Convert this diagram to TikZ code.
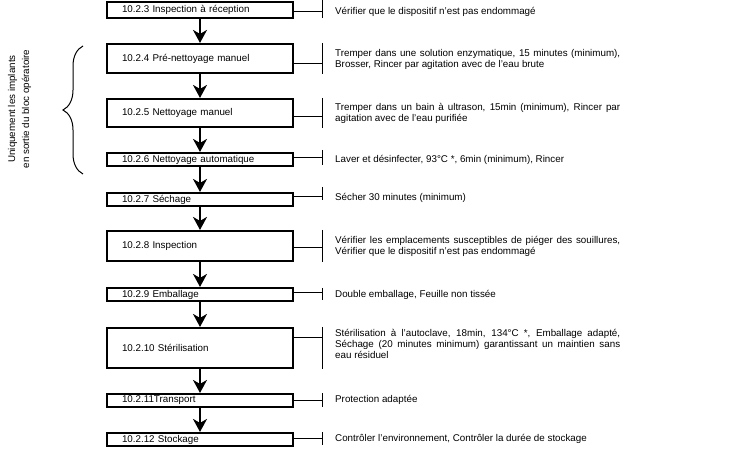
\documentclass[tikz,border=0pt]{standalone}
\usepackage{fontspec}
\setmainfont{Liberation Sans}
\usetikzlibrary{arrows.meta,decorations.pathreplacing}

\begin{document}
\begin{tikzpicture}[x=1bp,y=-1bp,stepbox/.style={draw=black,line width=1.6bp,text width=156bp,inner xsep=15bp,inner ysep=0bp,align=left,font=\fontsize{9.8bp}{11bp}\selectfont},note/.style={anchor=west,text width=285bp,inner sep=0bp,align=justify,font=\fontsize{9.8bp}{11bp}\selectfont},flow/.style={line width=2bp,-{Stealth[length=13bp,width=14bp,inset=4bp]}},link/.style={line width=1bp},tick/.style={line width=1bp}]
\def\bx{200}
\def\kx{322}
\def\tx{335}

\useasboundingbox (0,0) rectangle (752,450);

% etapes
\node[stepbox,minimum height=16.5bp] (b3) at (\bx,10) {10.2.3 Inspection à réception};
\node[stepbox,minimum height=29.5bp] (b4) at (\bx,58.5) {10.2.4 Pré-nettoyage manuel};
\node[stepbox,minimum height=28.5bp] (b5) at (\bx,113) {10.2.5 Nettoyage manuel};
\node[stepbox,minimum height=13.5bp] (b6) at (\bx,159.5) {10.2.6 Nettoyage automatique};
\node[stepbox,minimum height=13.5bp] (b7) at (\bx,199.5) {10.2.7 Séchage};
\node[stepbox,minimum height=30.5bp] (b8) at (\bx,246) {10.2.8 Inspection};
\node[stepbox,minimum height=13.5bp] (b9) at (\bx,294.5) {10.2.9 Emballage};
\node[stepbox,minimum height=40.5bp] (b10) at (\bx,348) {10.2.10 Stérilisation};
\node[stepbox,minimum height=13.5bp] (b11) at (\bx,400.5) {10.2.11Transport};
\node[stepbox,minimum height=13.5bp] (b12) at (\bx,439.5) {10.2.12 Stockage};

\draw[flow] (b3.south) -- (b4.north);
\draw[flow] (b4.south) -- (b5.north);
\draw[flow] (b5.south) -- (b6.north);
\draw[flow] (b6.south) -- (b7.north);
\draw[flow] (b7.south) -- (b8.north);
\draw[flow] (b8.south) -- (b9.north);
\draw[flow] (b9.south) -- (b10.north);
\draw[flow] (b10.south) -- (b11.north);
\draw[flow] (b11.south) -- (b12.north);

% consignes
\node[note] (t3) at (\tx,12) {Vérifier que le dispositif n'est pas endommagé};
\node[note] (t4) at (\tx,59) {Tremper dans une solution enzymatique, 15 minutes (minimum),\linebreak Brosser, Rincer par agitation avec de l'eau brute};
\node[note] (t5) at (\tx,113.5) {Tremper dans un bain à ultrason, 15min (minimum), Rincer par\linebreak agitation avec de l'eau purifiée};
\node[note] (t6) at (\tx,160) {Laver et désinfecter, 93°C *, 6min (minimum), Rincer};
\node[note] (t7) at (\tx,198) {Sécher 30 minutes (minimum)};
\node[note] (t8) at (\tx,246.5) {Vérifier les emplacements susceptibles de piéger des souillures,\linebreak Vérifier que le dispositif n'est pas endommagé};
\node[note] (t9) at (\tx,295) {Double emballage, Feuille non tissée};
\node[note] (t10) at (\tx,344) {Stérilisation à l'autoclave, 18min, 134°C *, Emballage adapté,\linebreak Séchage (20 minutes minimum) garantissant un maintien sans\linebreak eau résiduel};
\node[note] (t11) at (\tx,400) {Protection adaptée};
\node[note] (t12) at (\tx,439) {Contrôler l'environnement, Contrôler la durée de stockage};

\coordinate (k3) at (\kx,12);
\coordinate (k4) at (\kx,64);
\coordinate (k5) at (\kx,117);
\coordinate (k6) at (\kx,158);
\coordinate (k7) at (\kx,197);
\coordinate (k8) at (\kx,248);
\coordinate (k9) at (\kx,293);
\coordinate (k10) at (\kx,338);
\coordinate (k11) at (\kx,400);
\coordinate (k12) at (\kx,438);

\draw[link] (b3.east |- k3) -- (k3);
\draw[link] (b4.east |- k4) -- (k4);
\draw[link] (b5.east |- k5) -- (k5);
\draw[link] (b6.east |- k6) -- (k6);
\draw[link] (b7.east |- k7) -- (k7);
\draw[link] (b8.east |- k8) -- (k8);
\draw[link] (b9.east |- k9) -- (k9);
\draw[link] (b10.east |- k10) -- (k10);
\draw[link] (b11.east |- k11) -- (k11);
\draw[link] (b12.east |- k12) -- (k12);

\draw[tick] (\kx,0) -- (\kx,18);
\draw[tick] (\kx,43) -- (\kx,74);
\draw[tick] (\kx,98) -- (\kx,128);
\draw[tick] (\kx,150) -- (\kx,165);
\draw[tick] (\kx,187) -- (\kx,200);
\draw[tick] (\kx,230) -- (\kx,262);
\draw[tick] (\kx,288) -- (\kx,300);
\draw[tick] (\kx,327) -- (\kx,369);
\draw[tick] (\kx,393) -- (\kx,407);
\draw[tick] (\kx,432) -- (\kx,445);

% accolade
\draw[line width=1bp,decorate,decoration={brace,amplitude=20bp}] (83,174) -- (83,46);
\node[rotate=90,align=center,inner sep=0bp,font=\fontsize{9.8bp}{14bp}\selectfont] (lbl) at (19.5,109) {Uniquement les implants\\en sortie du bloc opératoire};
\end{tikzpicture}
\end{document}
